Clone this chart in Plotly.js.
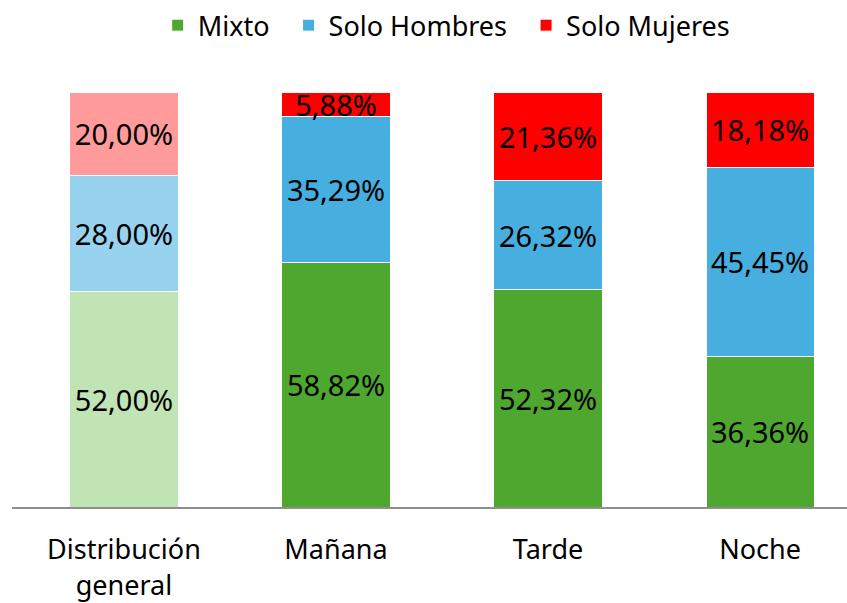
<!DOCTYPE html>
<html>
<head>
<meta charset="utf-8">
<script src="https://cdn.plot.ly/plotly-3.0.1.min.js"></script>
<style>html,body{margin:0;padding:0;background:#fff;}#chart{width:847px;height:603px;}</style>
</head>
<body>
<div id="chart"></div>
<script>
const categories = ["Distribución<br>general", "Mañana", "Tarde", "Noche"];
const seriesNames = ["Mixto", "Solo Hombres", "Solo Mujeres"];
const mixto = [52.00, 58.82, 52.32, 36.36];
const soloHombres = [28.00, 35.29, 26.32, 45.45];
const soloMujeres = [20.00, 5.88, 21.36, 18.18];
const darkColors = ["#4EA72E", "#47AFE0", "#FF0000"];
const lightColors = ["#C0E4B4", "#97D2EE", "#FF9B9B"];

const seriesValues = [mixto, soloHombres, soloMujeres];
const fmt = v => v.toFixed(2).replace(".", ",") + "%";
const pad = "\u00A0\u00A0";

const traces = [];
seriesValues.forEach((vals, i) => {
  const common = {
    type: "bar",
    textposition: "inside",
    insidetextanchor: "middle",
    constraintext: "none",
    textangle: 0,
    textfont: {family: "Noto Sans, sans-serif", size: 29, color: "#000"},
    hoverinfo: "skip",
    width: 0.51,
    legendgroup: seriesNames[i]
  };
  traces.push(Object.assign({}, common, {
    name: seriesNames[i],
    x: [categories[0]],
    y: [vals[0]],
    text: [fmt(vals[0])],
    marker: {color: lightColors[i], line: {color: "#ffffff", width: 1}},
    showlegend: false
  }));
  traces.push(Object.assign({}, common, {
    name: i < seriesNames.length - 1 ? seriesNames[i] + pad : seriesNames[i],
    x: categories.slice(1),
    y: vals.slice(1),
    text: vals.slice(1).map(fmt),
    marker: {color: darkColors[i], line: {color: "#ffffff", width: 1}},
    showlegend: true
  }));
});

const layout = {
  width: 847,
  height: 603,
  margin: {l: 12, r: 0, t: 92, b: 96},
  barmode: "stack",
  paper_bgcolor: "#ffffff",
  plot_bgcolor: "#ffffff",
  font: {family: "Noto Sans, sans-serif", color: "#000"},
  showlegend: true,
  legend: {
    orientation: "h",
    x: 0.52, xanchor: "center",
    y: 1.16, yanchor: "middle",
    traceorder: "normal",
    font: {family: "Noto Sans, sans-serif", size: 27, color: "#000"}
  },
  xaxis: {
    type: "category",
    categoryorder: "array",
    categoryarray: categories,
    range: [-0.528, 3.41],
    showline: true,
    linecolor: "#8F8F8F",
    linewidth: 2,
    ticks: "",
    ticklabelstandoff: 18,
    showgrid: false,
    zeroline: false,
    tickfont: {family: "Noto Sans, sans-serif", size: 27, color: "#000"}
  },
  yaxis: {
    range: [0, 100],
    visible: false,
    showgrid: false,
    zeroline: false
  }
};

Plotly.newPlot("chart", traces, layout, {displayModeBar: false, staticPlot: true});
</script>
</body>
</html>
